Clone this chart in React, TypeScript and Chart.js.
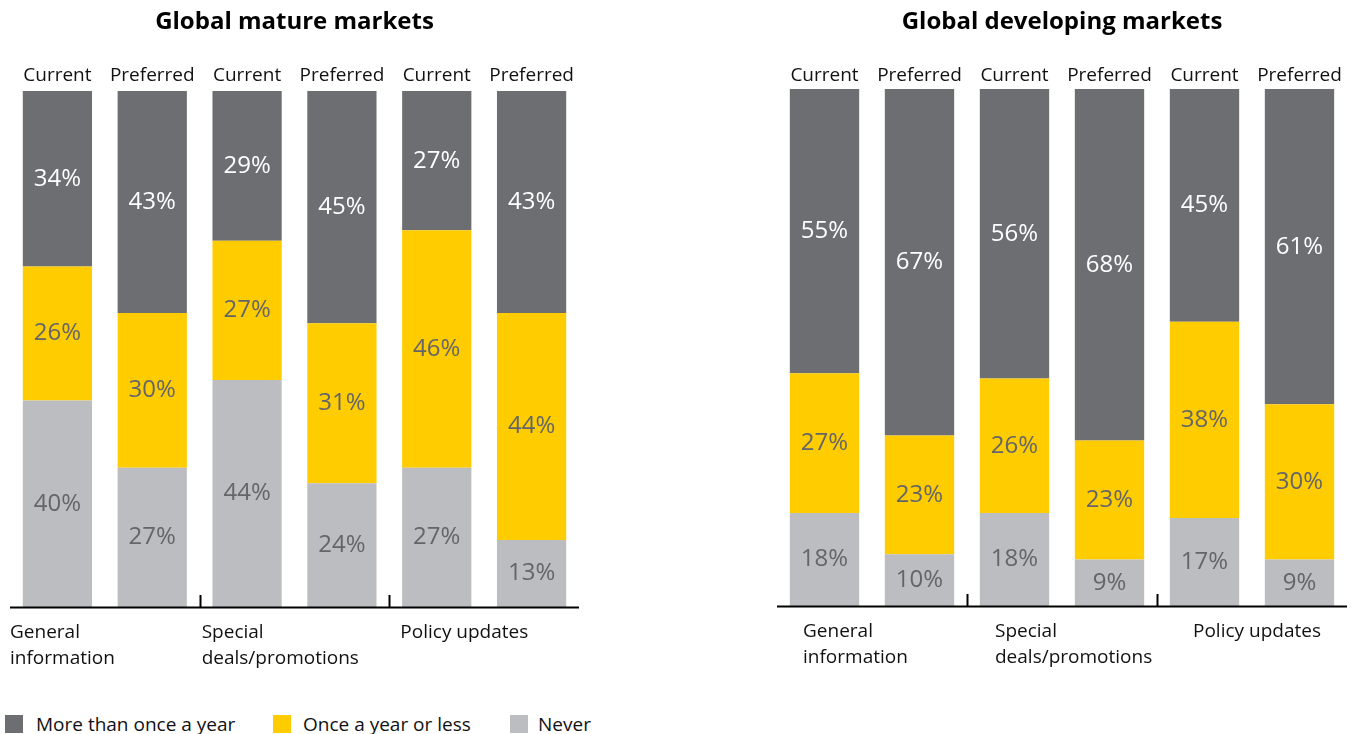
import React, { useEffect, useRef } from "react";
import { Chart, registerables } from "chart.js";
Chart.register(...registerables);

const barLabels = ["Current", "Preferred", "Current", "Preferred", "Current", "Preferred"];
const groupLabels = [["General", "information"], ["Special", "deals/promotions"], ["Policy updates"]];
const seriesNames = ["More than once a year", "Once a year or less", "Never"];

const matureMore = [34, 43, 29, 45, 27, 43];
const matureOnce = [26, 30, 27, 31, 46, 44];
const matureNever = [40, 27, 44, 24, 27, 13];

const devMore = [55, 67, 56, 68, 45, 61];
const devOnce = [27, 23, 26, 23, 38, 30];
const devNever = [18, 10, 18, 9, 17, 9];

const COLORS = ["#6d6e71", "#ffcc00", "#bcbdc0"];
const LABEL_COLORS = ["#ffffff", "#646569", "#646569"];
const FONT = "'Open Sans'";

const decorPlugin = {
  id: "decor",
  afterDatasetsDraw(chart: any, _args: any, opts: any) {
    const ctx = chart.ctx;
    const { left, right, bottom } = chart.chartArea;
    const xs = chart.scales.x;
    ctx.save();
    // value labels
    ctx.textAlign = "center";
    ctx.textBaseline = "middle";
    ctx.font = `24px ${FONT}`;
    chart.data.datasets.forEach((ds: any, di: number) => {
      const meta = chart.getDatasetMeta(di);
      meta.data.forEach((el: any, i: number) => {
        const p = el.getProps(["x", "y", "base"], true);
        ctx.fillStyle = ds.labelColor;
        ctx.fillText(ds.data[i] + "%", p.x, (p.y + p.base) / 2);
      });
    });
    // top labels
    ctx.fillStyle = "#111";
    ctx.font = `19px ${FONT}`;
    (chart.data.labels as string[]).forEach((lab, i) => {
      ctx.fillText(lab, xs.getPixelForValue(i), opts.topLabelY);
    });
    // axis line
    ctx.strokeStyle = "#000";
    ctx.lineWidth = 2;
    ctx.beginPath();
    ctx.moveTo(left, bottom + 0.5);
    ctx.lineTo(right, bottom + 0.5);
    ctx.stroke();
    // group boundaries
    const starts = [left];
    for (let g = 1; g < groupLabels.length; g++) {
      const xb = (xs.getPixelForValue(2 * g - 1) + xs.getPixelForValue(2 * g)) / 2;
      starts.push(xb);
      ctx.beginPath();
      ctx.moveTo(Math.round(xb) + 0.5, bottom);
      ctx.lineTo(Math.round(xb) + 0.5, bottom - 12);
      ctx.stroke();
    }
    // group labels
    ctx.textAlign = "left";
    ctx.fillStyle = "#111";
    ctx.font = `19px ${FONT}`;
    groupLabels.forEach((lines, g) => {
      const x = starts[g] + opts.groupOffsets[g];
      lines.forEach((l, k) => ctx.fillText(l, x, bottom + 26 + k * 26));
    });
    ctx.restore();
  },
};

function makeConfig(title: string, more: number[], once: number[], never: number[], pad: any, titleBottom: number, groupOffsets: number[], topLabelY: number) {
  const sets = [
    { label: seriesNames[2], data: never, backgroundColor: COLORS[2], labelColor: LABEL_COLORS[2] },
    { label: seriesNames[1], data: once, backgroundColor: COLORS[1], labelColor: LABEL_COLORS[1] },
    { label: seriesNames[0], data: more, backgroundColor: COLORS[0], labelColor: LABEL_COLORS[0] },
  ];
  return {
    type: "bar",
    data: {
      labels: barLabels,
      datasets: sets.map((s) => ({ ...s, barPercentage: 1, categoryPercentage: 0.73, borderWidth: 0 })),
    },
    options: {
      responsive: false,
      animation: false,
      layout: { padding: pad },
      scales: {
        x: { stacked: true, display: false },
        y: { stacked: true, display: false, min: 0, max: 100 },
      },
      plugins: {
        legend: { display: false },
        tooltip: { enabled: false },
        title: {
          display: true,
          text: title,
          color: "#000",
          font: { family: FONT, size: 24, weight: "bold" },
          padding: { top: 8, bottom: titleBottom },
        },
        decor: { groupOffsets, topLabelY },
      },
    },
    plugins: [decorPlugin],
  } as any;
}

function ChartCanvas(props: { cfg: any; left: number; width: number; height: number }) {
  const ref = useRef<HTMLCanvasElement>(null);
  useEffect(() => {
    const c = new Chart(ref.current as HTMLCanvasElement, props.cfg);
    return () => c.destroy();
  }, []);
  return (
    <canvas
      ref={ref}
      width={props.width}
      height={props.height}
      style={{ position: "absolute", left: props.left, top: 0, width: props.width, height: props.height }}
    />
  );
}

export default function App() {
  const leftCfg = makeConfig("Global mature markets", matureMore, matureOnce, matureNever,
    { left: 20, right: 1, top: 0, bottom: 93 }, 54.2, [0, 2, 11], 76);
  const rightCfg = makeConfig("Global developing markets", devMore, devOnce, devNever,
    { left: 7, right: 11, top: 0, bottom: 94 }, 52.2, [26, 28, 36], 76);
  const legendItems = [
    { name: seriesNames[0], color: COLORS[0], box: 5, text: 36 },
    { name: seriesNames[1], color: COLORS[1], box: 273, text: 303 },
    { name: seriesNames[2], color: COLORS[2], box: 510, text: 538 },
  ];
  return (
    <div style={{ position: "fixed", left: 0, top: 0, width: 1357, height: 734, overflow: "hidden", background: "#fff" }}>
      <ChartCanvas cfg={leftCfg} left={-10} width={590} height={700} />
      <ChartCanvas cfg={rightCfg} left={770} width={588} height={700} />
      {legendItems.map((it) => (
        <React.Fragment key={it.name}>
          <div style={{ position: "absolute", left: it.box, top: 715, width: 18, height: 18, background: it.color }} />
          <div style={{ position: "absolute", left: it.text, top: 711, fontFamily: FONT, fontSize: 19, lineHeight: "26px", color: "#111", whiteSpace: "nowrap" }}>
            {it.name}
          </div>
        </React.Fragment>
      ))}
    </div>
  );
}
